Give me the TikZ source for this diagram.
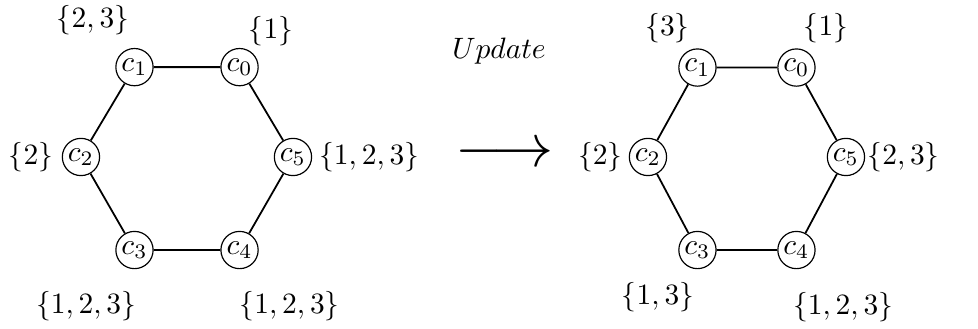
\documentclass[tikz,border=0pt]{standalone}
\usepackage{amsmath}
\usepackage{amssymb}
\usepackage{tikz}
\usetikzlibrary{calc}

\tikzset{
  vtx/.style={circle,draw,line width=0.4pt,inner sep=0.75pt},
  hexedge/.style={line width=0.6pt},
  setlbl/.style={inner sep=0pt}
}

\begin{document}
\begin{tikzpicture}[font=\fontsize{10.4}{12.5}\selectfont]
                \useasboundingbox (0,0) rectangle (11.657,-3.921);
                
                % Vertices of the first cycle
                \node[vtx] (a0) at (2.855,-0.800) {$c_0$};
                \node[vtx] (a1) at (1.603,-0.800) {$c_1$};
                \node[vtx] (a2) at (0.965,-1.871) {$c_2$};
                \node[vtx] (a3) at (1.603,-2.980) {$c_3$};
                \node[vtx] (a4) at (2.855,-2.980) {$c_4$};
                \node[vtx] (a5) at (3.492,-1.871) {$c_5$};
                
                % Drawing the edges of the first cycle
                \draw[hexedge] (a0) -- (a1) -- (a2) -- (a3) -- (a4) -- (a5) -- (a0);
                
                % Colour sets before the update
                \node[setlbl] (sa0) at (3.230,-0.375) {$\{1\}$};
                \node[setlbl] (sa1) at (1.108,-0.238) {$\{2,3\}$};
                \node[setlbl] (sa2) at (0.370,-1.871) {$\{2\}$};
                \node[setlbl] (sa3) at (1.025,-3.647) {$\{1,2,3\}$};
                \node[setlbl] (sa4) at (3.451,-3.647) {$\{1,2,3\}$};
                \node[setlbl] (sa5) at (4.400,-1.871) {$\{1,2,3\}$};
                
                % Update step
                \node[setlbl] (upd) at (5.948,-0.608) {$Update$};
                \node[setlbl] (arrow) at (6.013,-1.847) {\fontsize{20}{24}\selectfont$\longrightarrow$};
                
                % Vertices of the second cycle
                \node[vtx] (b0) at (9.493,-0.805) {$c_0$};
                \node[vtx] (b1) at (8.313,-0.805) {$c_1$};
                \node[vtx] (b2) at (7.723,-1.871) {$c_2$};
                \node[vtx] (b3) at (8.313,-2.980) {$c_3$};
                \node[vtx] (b4) at (9.493,-2.980) {$c_4$};
                \node[vtx] (b5) at (10.083,-1.871) {$c_5$};
                
                % Drawing the edges of the second cycle
                \draw[hexedge] (b0) -- (b1) -- (b2) -- (b3) -- (b4) -- (b5) -- (b0);
                
                % Colour sets after the update
                \node[setlbl] (sb0) at (9.845,-0.334) {$\{1\}$};
                \node[setlbl] (sb1) at (7.956,-0.334) {$\{3\}$};
                \node[setlbl] (sb2) at (7.155,-1.871) {$\{2\}$};
                \node[setlbl] (sb3) at (7.843,-3.540) {$\{1,3\}$};
                \node[setlbl] (sb4) at (10.048,-3.665) {$\{1,2,3\}$};
                \node[setlbl] (sb5) at (10.770,-1.871) {$\{2,3\}$};
\end{tikzpicture}
\end{document}
